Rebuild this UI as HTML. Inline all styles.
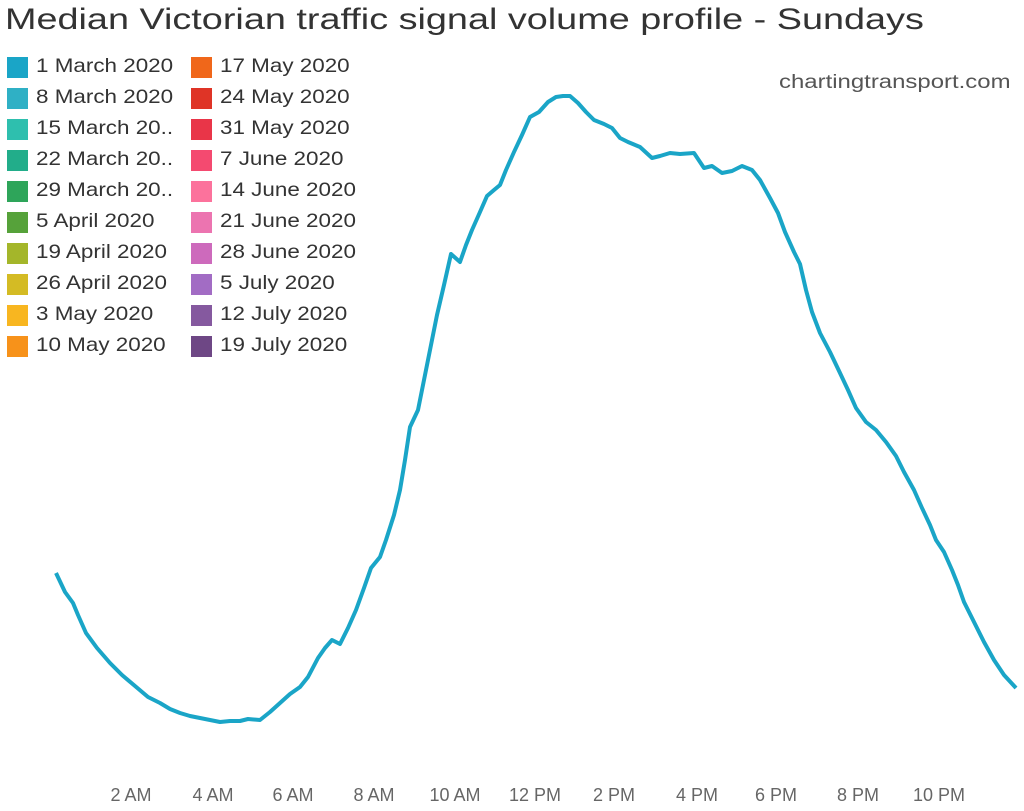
<!DOCTYPE html>
<html><head><meta charset="utf-8"><style>
body{margin:0;width:1024px;height:811px;background:#fff;font-family:"Liberation Sans",sans-serif;overflow:hidden;position:relative}
.t{position:absolute;left:5px;top:3px;font-size:30px;color:#333;white-space:nowrap;transform:scaleX(1.26);transform-origin:0 0}
.lg{position:absolute;font-size:19.5px;color:#333;white-space:nowrap}
.lg div{height:31px;position:relative}
.lg span{position:absolute;left:0;top:5px;width:21px;height:21px}
.lg b{font-weight:normal;position:absolute;left:29px;top:3px;transform:scaleX(1.15);transform-origin:0 0}
.src{position:absolute;left:779px;top:72px;font-size:19px;color:#555;transform:scaleX(1.26);transform-origin:0 0;white-space:nowrap}
.ax{position:absolute;top:785px;font-size:18px;color:#666;transform:translateX(-50%);white-space:nowrap}
</style></head><body>
<div class="t">Median Victorian traffic signal volume profile - Sundays</div>
<div class="lg" style="left:7px;top:52px">
<div><span style="background:#1aa5c7"></span><b>1 March 2020</b></div>
<div><span style="background:#2fb0c5"></span><b>8 March 2020</b></div>
<div><span style="background:#2ebfae"></span><b>15 March 20..</b></div>
<div><span style="background:#22ad8a"></span><b>22 March 20..</b></div>
<div><span style="background:#2ea55a"></span><b>29 March 20..</b></div>
<div><span style="background:#56a23a"></span><b>5 April 2020</b></div>
<div><span style="background:#a4b62a"></span><b>19 April 2020</b></div>
<div><span style="background:#d4bb24"></span><b>26 April 2020</b></div>
<div><span style="background:#f8b620"></span><b>3 May 2020</b></div>
<div><span style="background:#f7921a"></span><b>10 May 2020</b></div>
</div>
<div class="lg" style="left:191px;top:52px">
<div><span style="background:#f0671a"></span><b>17 May 2020</b></div>
<div><span style="background:#df3426"></span><b>24 May 2020</b></div>
<div><span style="background:#e93548"></span><b>31 May 2020</b></div>
<div><span style="background:#f44a70"></span><b>7 June 2020</b></div>
<div><span style="background:#fc729c"></span><b>14 June 2020</b></div>
<div><span style="background:#ec74b0"></span><b>21 June 2020</b></div>
<div><span style="background:#cd6abc"></span><b>28 June 2020</b></div>
<div><span style="background:#a26cc4"></span><b>5 July 2020</b></div>
<div><span style="background:#85599f"></span><b>12 July 2020</b></div>
<div><span style="background:#6e4785"></span><b>19 July 2020</b></div>
</div>
<div class="src">chartingtransport.com</div>
<svg style="position:absolute;left:0;top:0" width="1024" height="811">
<polyline fill="none" stroke="#1aa5c7" stroke-width="4" stroke-linejoin="round" points="56,573 65,592 73,603 78,615 86,633 97,648 110,663 122,675 135,686 148,697 160,703 170,709 180,713 190,716 200,718 210,720 220,722 230,721 240,721 248,719 260,720 270,712 280,703 290,694 300,687 308,677 318,658 325,648 332,640 340,644 348,628 356,610 364,588 371,568 380,557 386,540 394,515 400,490 405,460 410,427 418,410 424,380 430,350 437,315 444,285 451,254 460,262 466,245 472,230 480,212 487,196 494,190 500,185 506,170 514,152 522,135 530,117 539,112 548,102 556,97 563,96 570,96 578,103 586,112 594,120 604,124 612,128 620,138 628,142 640,147 652,158 660,156 670,153 680,154 694,153 704,168 712,166 722,173 732,171 742,166 752,170 760,180 770,198 778,213 785,232 794,252 800,264 806,290 812,312 820,333 830,352 840,373 848,390 856,408 866,422 876,430 886,442 896,456 904,472 914,490 922,508 930,525 936,540 944,552 952,570 958,585 964,602 974,622 984,642 994,660 1004,675 1016,688"/>
</svg>
<div class="ax" style="left:131px">2 AM</div>
<div class="ax" style="left:213px">4 AM</div>
<div class="ax" style="left:293px">6 AM</div>
<div class="ax" style="left:374px">8 AM</div>
<div class="ax" style="left:455px">10 AM</div>
<div class="ax" style="left:535px">12 PM</div>
<div class="ax" style="left:614px">2 PM</div>
<div class="ax" style="left:697px">4 PM</div>
<div class="ax" style="left:776px">6 PM</div>
<div class="ax" style="left:858px">8 PM</div>
<div class="ax" style="left:939px">10 PM</div>
</body></html>
